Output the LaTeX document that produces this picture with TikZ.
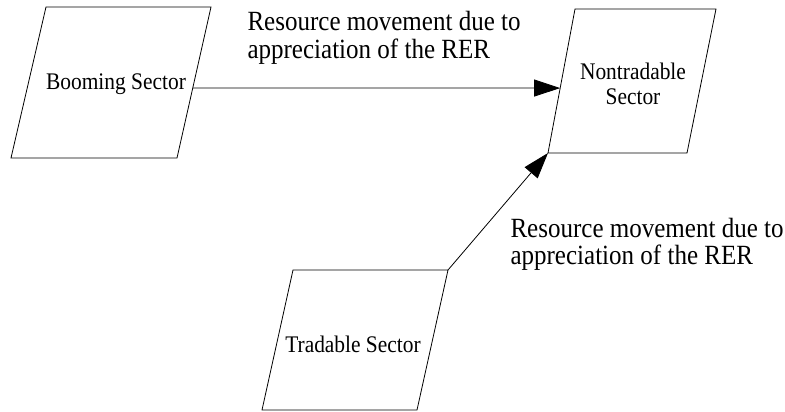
\documentclass[tikz,border=0pt]{standalone}
\usepackage{graphicx}
\usepackage{fontspec}
\setmainfont{Liberation Serif}
\usepackage{tikz}
\usetikzlibrary{arrows.meta}
\usetikzlibrary{calc}
\newcommand{\SECTOR}[1]{\scalebox{0.9}[1]{\fontsize{23.8}{25}\selectfont #1}}
\newcommand{\MOVE}[1]{\scalebox{0.9}[1]{\fontsize{27.8}{25}\selectfont #1}}

\begin{document}
\begin{tikzpicture}[x=1pt,y=-1pt,
    sector/.style={line width=0.8pt},
    flow/.style={line width=0.8pt,-{Triangle[length=26pt,width=17pt]}}]
    \useasboundingbox (0,0) rectangle (785,412);

    \coordinate (b1) at ( 46,  7);
    \coordinate (b2) at (211,  7);
    \coordinate (b3) at (177,158);
    \coordinate (b4) at ( 11,158);

    \coordinate (n1) at (575,  9);
    \coordinate (n2) at (716,  9);
    \coordinate (n3) at (687,153);
    \coordinate (n4) at (548,153);

    \coordinate (t1) at (293,270);
    \coordinate (t2) at (448,270);
    \coordinate (t3) at (417,410);
    \coordinate (t4) at (262,410);

    \coordinate (bOut) at ($(b2)!0.536!(b3)$);
    \coordinate (nIn) at ($(n1)!0.549!(n4)$);

    \draw[sector] (b1) -- (b2) -- (b3) -- (b4) -- cycle;
    \draw[sector] (n1) -- (n2) -- (n3) -- (n4) -- cycle;
    \draw[sector] (t1) -- (t2) -- (t3) -- (t4) -- cycle;

    \node[anchor=base] (boom) at (116,89) {\SECTOR{Booming Sector}};
    \node[anchor=base] (nontrad) at (633,80)
        {\SECTOR{\begin{tabular}[t]{@{}c@{}}Nontradable\\Sector\end{tabular}}};
    \node[anchor=base] (trad) at (353,352) {\SECTOR{Tradable Sector}};

    \draw[flow] (bOut) -- (nIn);
    \draw[flow] (t2) -- (n4);

    \node[anchor=base west] (move1) at (244,31)
        {\MOVE{\begin{tabular}[t]{@{}l@{}}Resource movement due to\\appreciation of the RER\end{tabular}}};
    \node[anchor=base west] (move2) at (507,237)
        {\MOVE{\begin{tabular}[t]{@{}l@{}}Resource movement due to\\appreciation of the RER\end{tabular}}};
\end{tikzpicture}
\end{document}
